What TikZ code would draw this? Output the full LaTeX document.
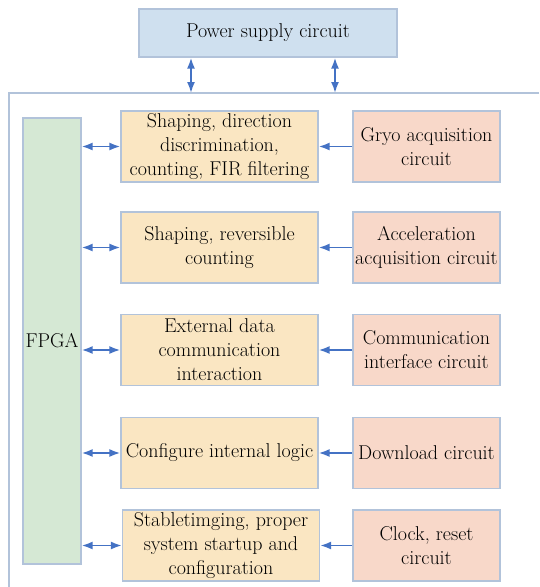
\documentclass[tikz,border=0pt]{standalone}
\usepackage{fontspec}
\usepackage{tikz}
\usetikzlibrary{arrows.meta,positioning,calc}
\definecolor{powerblue}{RGB}{207,224,239}
\definecolor{fpgagreen}{RGB}{213,232,212}
\definecolor{funcyellow}{RGB}{250,230,194}
\definecolor{circpink}{RGB}{248,216,201}
\definecolor{edgegray}{RGB}{178,195,218}
\definecolor{linkblue}{RGB}{68,114,196}

\begin{document}
\begin{tikzpicture}[
        x=1pt, y=-1pt,
        box/.style={draw=edgegray, line width=1.2pt, font=\fontsize{20}{24}\selectfont, align=center, inner sep=0pt},
        funcbox/.style={box, fill=funcyellow, minimum width=197pt, minimum height=71pt},
        circbox/.style={box, fill=circpink, minimum width=147pt, minimum height=71pt},
        dbl/.style={{Latex[length=11pt,width=8pt]}-{Latex[length=11pt,width=8pt]}, linkblue, line width=1.8pt},
        arrow/.style={-{Latex[length=11pt,width=8pt]}, linkblue, line width=1.8pt}
    ]
        \useasboundingbox (0,0) rectangle (539,587);

        % power supply and the board frame
        \node[box, fill=powerblue, minimum width=258pt, minimum height=48pt] (power) at (268,33) {Power supply circuit};
        \draw[edgegray, line width=1.5pt] (539,93) -- (9,93) -- (9,587);
        \coordinate (pin1) at (191,93);
        \coordinate (pin2) at (335,93);
        \draw[dbl] (power.south -| pin1) -- (pin1);
        \draw[dbl] (power.south -| pin2) -- (pin2);

        \node[box, fill=fpgagreen, minimum width=58pt, minimum height=446pt] (fpga) at (52,341) {FPGA};

        % function blocks
        \node[funcbox] (gyrofn) at (219.5,146.5) {Shaping, direction\\discrimination,\\counting, FIR filtering};
        \node[funcbox] (accfn) at (219.5,247.5) {Shaping, reversible\\counting};
        \node[funcbox] (commfn) at (219.5,350) {External data\\communication\\interaction};
        \node[funcbox] (cfgfn) at (219.5,453) {Configure internal logic};
        \node[funcbox] (clkfn) at (221,545.5) {Stabletimging, proper\\system startup and\\configuration};

        % peripheral circuits
        \node[circbox] (gyro) at (426.5,146.5) {Gryo acquisition\\circuit};
        \node[circbox] (acc) at (426.5,247.5) {Acceleration\\acquisition circuit};
        \node[circbox] (comm) at (426.5,350) {Communication\\interface circuit};
        \node[circbox] (down) at (426.5,453) {Download circuit};
        \node[circbox] (clk) at (426.5,545.5) {Clock, reset\\circuit};

        \foreach \f/\c in {gyrofn/gyro, accfn/acc, commfn/comm, cfgfn/down, clkfn/clk} {
            \draw[dbl] (fpga.east |- \f.west) -- (\f.west);
            \draw[arrow] (\c.west) -- (\f.east);
        }
    \end{tikzpicture}
\end{document}
